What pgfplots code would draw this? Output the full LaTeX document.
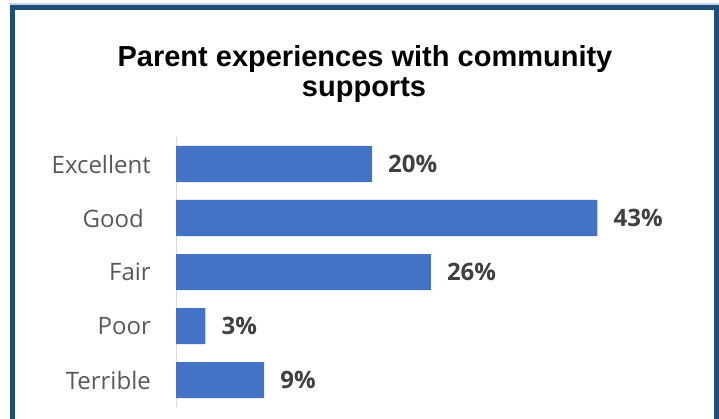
\documentclass[border=0pt]{standalone}
\usepackage{pgfplots}
\pgfplotsset{compat=1.18}
\usepackage{fontspec}
\setmainfont{Open Sans}
\newfontfamily\titlefont{Liberation Sans}
\definecolor{barblue}{HTML}{4472C4}
\definecolor{labgray}{HTML}{595959}
\definecolor{valgray}{HTML}{404040}
\definecolor{axgray}{HTML}{D9D9D9}
\definecolor{frameblue}{HTML}{1F4E79}
\begin{document}
\begin{tikzpicture}
\useasboundingbox (0,0) rectangle (719pt,419pt);
\fill[white] (0,0) rectangle (719pt,419pt);
\draw[line width=1.5pt, color=frameblue!25] (9pt,415pt) -- (719pt,415pt);
\draw[line width=5pt, frameblue] (12pt,-10pt) -- (12pt,411pt) -- (716pt,411pt) -- (716pt,-10pt);
\node[anchor=base, inner sep=0pt, font=\titlefont\bfseries\fontsize{29}{30}\selectfont] at (365pt,352pt) {Parent experiences with community};
\node[anchor=base, inner sep=0pt, font=\titlefont\bfseries\fontsize{29}{30}\selectfont] at (364pt,322pt) {supports};
\begin{axis}[
  at={(176pt,12pt)}, anchor=south west,
  scale only axis, width=490pt, height=270pt,
  xbar, bar width=36pt,
  xmin=0, xmax=50,
  ymin=-0.5, ymax=4.5, y dir=reverse,
  ytick={0,1,2,3,4},
  yticklabels={Excellent, Good\hspace*{7pt}, Fair, Poor, Terrible},
  axis x line=none,
  axis y line*=left,
  y axis line style={axgray, line width=1pt},
  major tick length=0pt,
  ytick style={draw=none},
  yticklabel style={font=\fontsize{24}{28}\selectfont, color=labgray, inner sep=0pt, anchor=east, xshift=-25pt},
  point meta=x,
  nodes near coords={\pgfmathprintnumber[assume math mode=true]{\pgfplotspointmeta}\%},
  nodes near coords style={font=\bfseries\fontsize{24}{28}\selectfont, color=valgray, anchor=west, inner sep=0pt, xshift=16pt},
  clip=false,
]
\addplot[fill=barblue, draw=none] coordinates {(20,0) (43,1) (26,2) (3,3) (9,4)};
\end{axis}
\end{tikzpicture}
\end{document}
